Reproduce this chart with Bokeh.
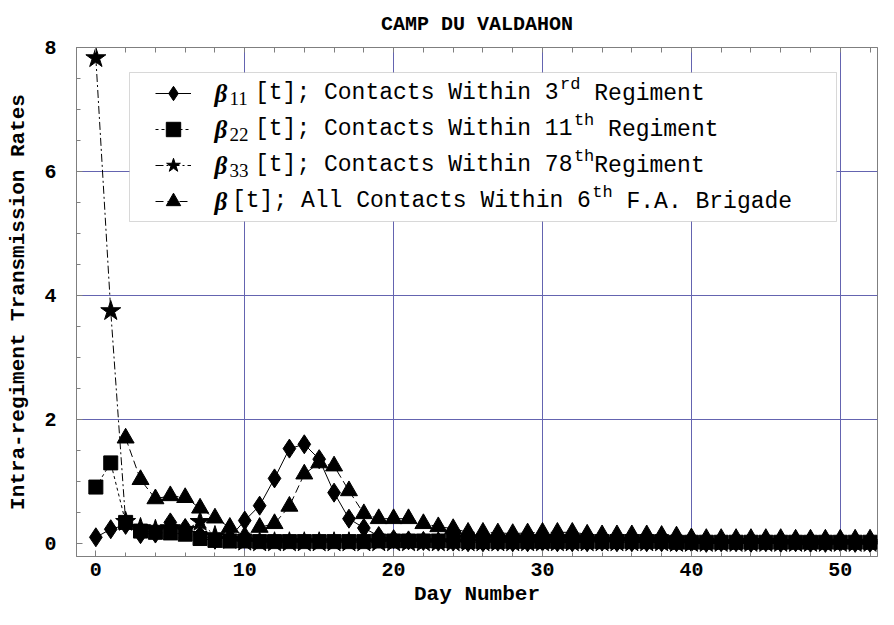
from bokeh.plotting import figure
from bokeh.models import (Range1d, FixedTicker, LinearAxis, BoxAnnotation, Label,
                          Legend, LegendItem)
from bokeh.embed import file_html
from bokeh.resources import INLINE

nan = float("nan")

# ---------------- data ----------------
days = list(range(53))

beta11 = [0.10, 0.23, 0.30, 0.15, 0.16, 0.34, 0.25, 0.14, 0.06, 0.10,
          0.37, 0.61, 1.05, 1.53, 1.60, 1.36, 0.82, 0.40, 0.25, 0.12,
          0.07, 0.05, 0.04, 0.03, 0.03,
          0.02, 0.02, 0.03, 0.02, 0.02, 0.03, 0.02,
          0.02, 0.02, 0.03, 0.02, 0.02, 0.02, 0.02,
          0.02, 0.02, 0.01, 0.02, 0.02, 0.01, 0.02,
          0.01, 0.02, 0.01, 0.01, 0.02, 0.01, 0.01]

beta22 = [0.91, 1.30, 0.34, 0.20, 0.18, 0.17, 0.15, 0.08, 0.05, 0.04, 0.04,
          0.03, 0.03, 0.03, 0.03, 0.03, 0.03, 0.03,
          0.03, 0.04, 0.04, 0.04, 0.04, 0.04, 0.04,
          0.03, 0.03, 0.03, 0.03, 0.03, 0.03, 0.03,
          0.03, 0.03, 0.03, 0.03, 0.03, 0.03, 0.03,
          0.02, 0.02, 0.02, 0.02, 0.02, 0.02, 0.02,
          0.02, 0.02, 0.02, 0.02, 0.02, 0.02, 0.02]

beta33 = [7.83, 3.75, 0.35, 0.25, 0.22, 0.25, 0.22, 0.35, 0.12, 0.06, 0.03,
          0.02, 0.02, 0.02, 0.02, 0.02, 0.02, 0.02,
          0.02, 0.02, 0.02, 0.02, 0.02, 0.02, 0.02,
          0.02, 0.02, 0.02, 0.02, 0.02, 0.02, 0.02,
          0.02, 0.02, 0.02, 0.02, 0.02, 0.02, 0.02,
          0.01, 0.01, 0.01, 0.01, 0.01, 0.01, 0.01,
          0.01, 0.01, 0.01, 0.01, 0.01, 0.01, 0.01]

beta_all = [nan, nan, 1.70, 1.03, 0.72, 0.77, 0.74, 0.57, 0.41, 0.26,
            0.12, 0.26, 0.32, 0.60, 1.12, 1.30, 1.25, 0.85, 0.48, 0.40,
            0.40, 0.40, 0.32, 0.27, 0.24, 0.18, 0.18, 0.17, 0.16, 0.17,
            0.18, 0.18, 0.18, 0.15, 0.14, 0.14, 0.14, 0.14, 0.13, 0.12,
            0.09, 0.08, 0.08, 0.08, 0.08, 0.08, 0.08,
            0.07, 0.07, 0.07, 0.07, 0.07, 0.07]

x_major = [0, 10, 20, 30, 40, 50]
x_minor = list(range(0, 53, 2))
y_major = [0, 2, 4, 6, 8]
y_minor = [i * 0.5 for i in range(17)]
x_grid = [10, 20, 30, 40, 50]
y_grid = [2, 4, 6]

title_text = "CAMP DU VALDAHON"
x_label = "Day Number"
y_label = "Intra-regiment Transmission Rates"

legend_sub = ["11", "22", "33", ""]
legend_main = ["[t]; Contacts Within 3",
               "[t]; Contacts Within 11",
               "[t]; Contacts Within 78",
               "[t]; All Contacts Within 6"]
legend_sup = ["rd", "th", "th", "th"]
legend_tail = [" Regiment", " Regiment", "Regiment", " F.A. Brigade"]

# ---------------- layout ----------------
W, H = 878, 609
BL, BR, BT, BB = 76, 1, 47, 53
X0, X1 = -1.3, 52.5
Y0, Y1 = -0.21, 8.0
FL, FR = BL, W - BR
FT, FB = BT, H - BB


def dx(px):
    return X0 + (px - FL) * (X1 - X0) / (FR - FL)


def dy(py):
    return Y1 - (py - FT) * (Y1 - Y0) / (FB - FT)


GRAY = "#7f7f7f"
GRID = "#6464b0"
MONO = "Liberation Mono"

p = figure(width=W, height=H, output_backend="svg", toolbar_location=None,
           x_range=Range1d(X0, X1), y_range=Range1d(Y0, Y1),
           min_border_left=BL, min_border_right=BR, min_border_top=BT,
           min_border_bottom=BB)

p.title.text = title_text
p.title.align = "center"
p.title.vertical_align = "top"
p.title.text_font = MONO
p.title.text_font_style = "bold"
p.title.text_font_size = "20px"
p.title.text_color = "black"
p.title.standoff = 19

p.outline_line_color = GRAY
p.outline_line_width = 1

for ax, maj, mnr in ((p.xaxis[0], x_major, x_minor), (p.yaxis[0], y_major, y_minor)):
    ax.ticker = FixedTicker(ticks=maj, minor_ticks=mnr)
    ax.axis_line_color = GRAY
    ax.major_tick_line_color = GRAY
    ax.minor_tick_line_color = GRAY
    ax.major_tick_in = 6
    ax.major_tick_out = 0
    ax.minor_tick_in = 4
    ax.minor_tick_out = 0
    ax.major_label_text_font = MONO
    ax.major_label_text_font_style = "bold"
    ax.major_label_text_font_size = "20px"
    ax.major_label_text_color = "black"
    ax.axis_label_text_font = MONO
    ax.axis_label_text_font_style = "bold"
    ax.axis_label_text_font_size = "21px"
    ax.axis_label_text_color = "black"

p.xaxis.axis_label = x_label
p.yaxis.axis_label = y_label
p.xaxis.major_label_standoff = 6
p.xaxis.axis_label_standoff = 4
p.yaxis.major_label_standoff = 20
p.yaxis.axis_label_standoff = 11

top = LinearAxis(ticker=FixedTicker(ticks=[], minor_ticks=x_minor),
                 axis_line_color=GRAY, minor_tick_line_color=GRAY,
                 minor_tick_in=5, minor_tick_out=0, major_tick_in=0,
                 major_tick_out=0, major_label_standoff=0)
p.add_layout(top, "above")

p.xgrid.ticker = FixedTicker(ticks=x_grid)
p.ygrid.ticker = FixedTicker(ticks=y_grid)
for g in (p.xgrid[0], p.ygrid[0]):
    g.grid_line_color = GRID
    g.grid_line_width = 1

# ---------------- series ----------------
l1 = p.line(days, beta11, line_color="black", line_width=1)
m1 = p.scatter(days, beta11, marker="diamond", size=19, fill_color="black", line_color="black")
l2 = p.line(days, beta22, line_color="black", line_width=1, line_dash="3 3")
m2 = p.scatter(days, beta22, marker="square", size=14, fill_color="black", line_color="black")
l3 = p.line(days, beta33, line_color="black", line_width=1, line_dash="8 3 2 3")
m3 = p.scatter(days, beta33, marker="star", size=21, fill_color="black", line_color="black")
l4 = p.line(days, beta_all, line_color="black", line_width=1, line_dash="8 4")
m4 = p.scatter(days, beta_all, marker="triangle", size=17, fill_color="black", line_color="black")
pairs = [(l1, m1), (l2, m2), (l3, m3), (l4, m4)]

# ---------------- legend ----------------
LB_L, LB_R, LB_T, LB_B = 129, 836, 72, 221
box = BoxAnnotation(left=dx(LB_L), right=dx(LB_R), top=dy(LB_T), bottom=dy(LB_B),
                    fill_color="white", fill_alpha=1.0, line_color=GRAY, line_width=1)
p.add_layout(box)

ROW0, ROWH = 93, 36
GLYPH_L, GLYPH_W = 155, 36
BETA_X, SUB_X = 214, 229
FS, SUPFS, SUBFS = 23, 17, 19
CW = 0.6 * FS
SCW = 0.6 * SUPFS


def text_start(i):
    return 255 if legend_sub[i] else 232


def make_legend(rows):
    last = rows[-1]
    start = text_start(rows[0])
    return Legend(items=[LegendItem(label=legend_main[i], renderers=list(pairs[i])) for i in rows],
                  location=(GLYPH_L - FL, FB - (ROW0 + last * ROWH + ROWH / 2)),
                  glyph_width=GLYPH_W, glyph_height=ROWH, spacing=0, padding=0, margin=0,
                  label_standoff=int(start - GLYPH_L - GLYPH_W), label_height=ROWH,
                  label_text_font=MONO, label_text_font_size=f"{FS}px",
                  label_text_color="black", label_text_baseline="middle",
                  border_line_color=None, background_fill_alpha=0.0)


p.add_layout(make_legend([0, 1, 2]))
p.add_layout(make_legend([3]))


def seg(px, py, text, font, size, style="normal"):
    p.add_layout(Label(x=dx(px), y=dy(py), text=text, text_font=font,
                       text_font_size=f"{size}px", text_font_style=style,
                       text_baseline="middle", text_align="left",
                       text_color="black"))


for i in range(4):
    yc = ROW0 + i * ROWH
    seg(BETA_X, yc, "\u03b2", "Liberation Serif", 25, "bold italic")
    if legend_sub[i]:
        seg(SUB_X, yc + 5, legend_sub[i], "Liberation Serif", SUBFS)
    x = text_start(i) + CW * len(legend_main[i]) + 1
    seg(x, yc - 9, legend_sup[i], MONO, SUPFS)
    x += SCW * len(legend_sup[i])
    tail = legend_tail[i]
    if tail.startswith(" "):
        x += CW
    seg(x, yc, tail.strip(), MONO, FS)

open("out.html", "w").write(file_html(p, INLINE))
